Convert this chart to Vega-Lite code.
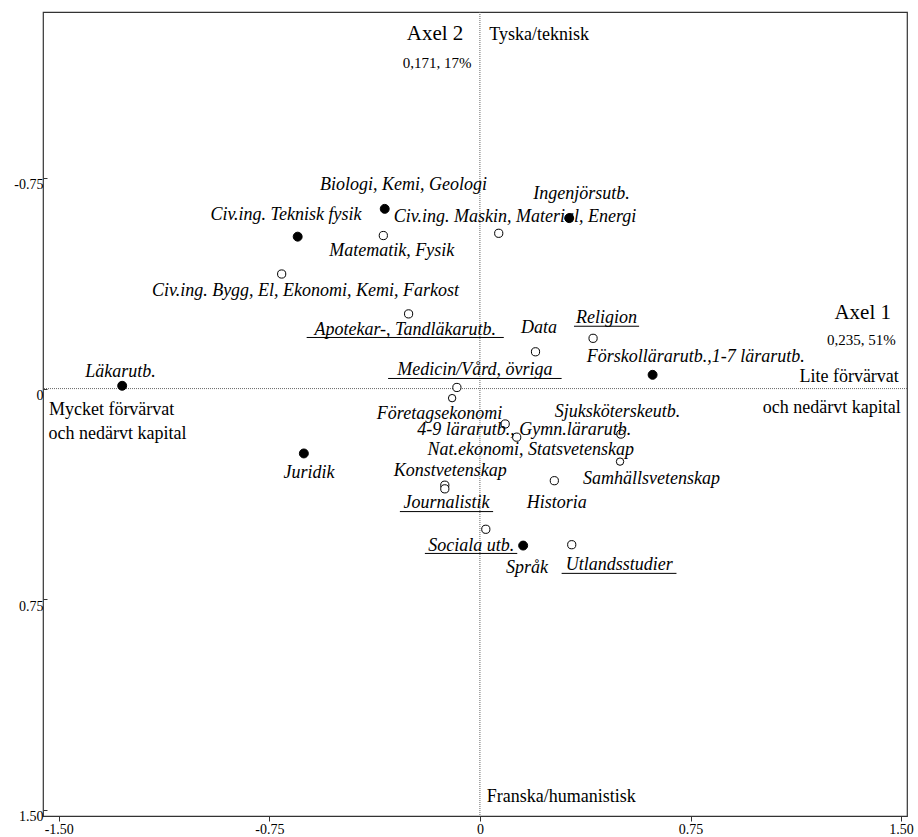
{
  "$schema": "https://vega.github.io/schema/vega-lite/v6.json",
  "width": 864,
  "height": 804,
  "autosize": {"type": "none"},
  "padding": {"left": 43, "top": 12, "right": 11, "bottom": 21},
  "background": "white",
  "config": {
    "view": {"stroke": "#333", "strokeWidth": 1.2},
    "font": "Liberation Serif",
    "axis": {"title": null, "grid": false, "domain": false, "tickColor": "#333", "labelFont": "Liberation Serif", "labelFontSize": 14, "labelColor": "black", "labelFlush": false}
  },
  "datasets": {
    "nollinjer": [{"x": 0, "y": 0}],
    "punkter": [
      {"namn": "Läkarutb.", "x": -1.274, "y": -0.010, "typ": "fylld"},
      {"namn": "Juridik", "x": -0.627, "y": 0.231, "typ": "fylld"},
      {"namn": "Civ.ing. Teknisk fysik", "x": -0.649, "y": -0.541, "typ": "fylld"},
      {"namn": "Civ.ing. Bygg, El, Ekonomi, Kemi, Farkost", "x": -0.706, "y": -0.408, "typ": "öppen"},
      {"namn": "Biologi, Kemi, Geologi", "x": -0.339, "y": -0.640, "typ": "fylld"},
      {"namn": "Matematik, Fysik", "x": -0.344, "y": -0.545, "typ": "öppen"},
      {"namn": "Civ.ing. Maskin, Material, Energi", "x": 0.067, "y": -0.553, "typ": "öppen"},
      {"namn": "Ingenjörsutb.", "x": 0.318, "y": -0.607, "typ": "fylld"},
      {"namn": "Apotekar-, Tandläkarutb.", "x": -0.254, "y": -0.266, "typ": "öppen"},
      {"namn": "Data", "x": 0.198, "y": -0.131, "typ": "öppen"},
      {"namn": "Religion", "x": 0.403, "y": -0.179, "typ": "öppen"},
      {"namn": "Förskollärarutb.,1-7 lärarutb.", "x": 0.615, "y": -0.049, "typ": "fylld"},
      {"namn": "Medicin/Vård, övriga", "x": -0.082, "y": -0.004, "typ": "öppen"},
      {"namn": "Företagsekonomi", "x": -0.099, "y": 0.034, "typ": "öppen stor"},
      {"namn": "4-9 lärarutb.", "x": 0.090, "y": 0.126, "typ": "öppen"},
      {"namn": "Gymn.lärarutb.", "x": 0.131, "y": 0.173, "typ": "öppen"},
      {"namn": "Sjuksköterskeutb.", "x": 0.502, "y": 0.162, "typ": "öppen"},
      {"namn": "Nat.ekonomi, Statsvetenskap", "x": 0.499, "y": 0.260, "typ": "öppen stor"},
      {"namn": "Samhällsvetenskap", "x": 0.265, "y": 0.328, "typ": "öppen"},
      {"namn": "Konstvetenskap", "x": -0.125, "y": 0.344, "typ": "öppen"},
      {"namn": "Journalistik", "x": -0.125, "y": 0.357, "typ": "öppen"},
      {"namn": "Sociala utb.", "x": 0.021, "y": 0.501, "typ": "öppen"},
      {"namn": "Språk", "x": 0.154, "y": 0.559, "typ": "fylld"},
      {"namn": "Utlandsstudier", "x": 0.327, "y": 0.556, "typ": "öppen"}
    ],
    "etiketter": [
      {"text": "Läkarutb.", "x": -1.280, "y": -0.040},
      {"text": "Juridik", "x": -0.609, "y": 0.320},
      {"text": "Civ.ing. Teknisk fysik", "x": -0.691, "y": -0.599},
      {"text": "Biologi, Kemi, Geologi", "x": -0.272, "y": -0.708},
      {"text": "Matematik, Fysik", "x": -0.314, "y": -0.473},
      {"text": "Civ.ing. Maskin, Material, Energi", "x": 0.125, "y": -0.594},
      {"text": "Ingenjörsutb.", "x": 0.362, "y": -0.676},
      {"text": "Civ.ing. Bygg, El, Ekonomi, Kemi, Farkost", "x": -0.621, "y": -0.330},
      {"text": "Apotekar-, Tandläkarutb.", "x": -0.266, "y": -0.191},
      {"text": "Data", "x": 0.210, "y": -0.197},
      {"text": "Religion", "x": 0.451, "y": -0.233},
      {"text": "Förskollärarutb.,1-7 lärarutb.", "x": 0.769, "y": -0.096},
      {"text": "Medicin/Vård, övriga", "x": -0.018, "y": -0.049},
      {"text": "Företagsekonomi", "x": -0.144, "y": 0.109},
      {"text": "4-9 lärarutb., Gymn.lärarutb.", "x": 0.158, "y": 0.165},
      {"text": "Sjuksköterskeutb.", "x": 0.490, "y": 0.100},
      {"text": "Nat.ekonomi, Statsvetenskap", "x": 0.181, "y": 0.236},
      {"text": "Samhällsvetenskap", "x": 0.611, "y": 0.339},
      {"text": "Konstvetenskap", "x": -0.106, "y": 0.313},
      {"text": "Journalistik", "x": -0.119, "y": 0.426},
      {"text": "Historia", "x": 0.274, "y": 0.425},
      {"text": "Sociala utb.", "x": -0.031, "y": 0.577},
      {"text": "Språk", "x": 0.168, "y": 0.657},
      {"text": "Utlandsstudier", "x": 0.496, "y": 0.646}
    ],
    "understrykningar": [
      {"etikett": "Apotekar-, Tandläkarutb.", "x": -0.617, "x2": 0.085, "y": -0.182},
      {"etikett": "Religion", "x": 0.335, "x2": 0.567, "y": -0.222},
      {"etikett": "Medicin/Vård, övriga", "x": -0.327, "x2": 0.291, "y": -0.036},
      {"etikett": "Journalistik", "x": -0.285, "x2": 0.047, "y": 0.438},
      {"etikett": "Sociala utb.", "x": -0.196, "x2": 0.133, "y": 0.587},
      {"etikett": "Utlandsstudier", "x": 0.291, "x2": 0.700, "y": 0.658}
    ],
    "annotering": [
      {"text": "Axel 2", "x": -0.059, "y": -1.242, "grupp": "axel"},
      {"text": "Axel 1", "x": 1.464, "y": -0.247, "grupp": "axel"},
      {"text": "0,171, 17%", "x": -0.030, "y": -1.141, "grupp": "tröghet"},
      {"text": "0,235, 51%", "x": 1.481, "y": -0.156, "grupp": "tröghet"},
      {"text": "Lite förvärvat", "x": 1.492, "y": -0.025, "grupp": "höger"},
      {"text": "och nedärvt kapital", "x": 1.499, "y": 0.088, "grupp": "höger"},
      {"text": "Mycket förvärvat", "x": -1.535, "y": 0.094, "grupp": "vänster"},
      {"text": "och nedärvt kapital", "x": -1.536, "y": 0.180, "grupp": "vänster"},
      {"text": "Tyska/teknisk", "x": 0.033, "y": -1.242, "grupp": "vänster"},
      {"text": "Franska/humanistisk", "x": 0.024, "y": 1.471, "grupp": "vänster"}
    ]
  },
  "layer": [
    {
      "data": {"name": "nollinjer"},
      "mark": {"type": "rule", "color": "#666", "strokeDash": [1, 1], "strokeWidth": 1},
      "encoding": {
        "x": {"field": "x", "type": "quantitative",
          "scale": {"domain": [-1.556, 1.521], "nice": false, "zero": false},
          "axis": {"values": [-1.5, -0.75, 0, 0.75, 1.5], "labelExpr": "datum.value == 0 ? '0' : (datum.value < 0 ? '-' : '') + format(abs(datum.value), '.2f')", "tickSize": 5, "labelPadding": 1}}
      }
    },
    {
      "data": {"name": "nollinjer"},
      "mark": {"type": "rule", "color": "#666", "strokeDash": [1, 1], "strokeWidth": 1},
      "encoding": {
        "y": {"field": "y", "type": "quantitative",
          "scale": {"domain": [-1.341, 1.522], "nice": false, "zero": false, "reverse": true},
          "axis": {"values": [-0.75, 0, 0.75, 1.5], "labelExpr": "datum.value == 0 ? '0' : (datum.value < 0 ? '-' : '') + format(abs(datum.value), '.2f')", "tickSize": -4, "labelPadding": 4, "labelBaseline": "top"}}
      }
    },
    {
      "data": {"name": "punkter"},
      "mark": {"type": "point", "shape": "circle", "filled": true, "stroke": "black", "strokeWidth": 1, "opacity": 1},
      "encoding": {
        "x": {"field": "x", "type": "quantitative", "scale": {"domain": [-1.556, 1.521], "nice": false, "zero": false},
          "axis": {"values": [-1.5, -0.75, 0, 0.75, 1.5], "labelExpr": "datum.value == 0 ? '0' : (datum.value < 0 ? '-' : '') + format(abs(datum.value), '.2f')", "tickSize": 5, "labelPadding": 1}},
        "y": {"field": "y", "type": "quantitative", "scale": {"domain": [-1.341, 1.522], "nice": false, "zero": false, "reverse": true},
          "axis": {"values": [-0.75, 0, 0.75, 1.5], "labelExpr": "datum.value == 0 ? '0' : (datum.value < 0 ? '-' : '') + format(abs(datum.value), '.2f')", "tickSize": -4, "labelPadding": 4, "labelBaseline": "top"}},
        "fill": {"field": "typ", "type": "nominal", "scale": {"domain": ["fylld", "öppen", "öppen stor"], "range": ["black", "white", "white"]}, "legend": null},
        "size": {"field": "typ", "type": "ordinal", "scale": {"domain": ["fylld", "öppen", "öppen stor"], "range": [80, 55, 100]}, "legend": null}
      }
    },
    {
      "data": {"name": "understrykningar"},
      "mark": {"type": "rule", "color": "black", "strokeWidth": 1},
      "encoding": {
        "x": {"field": "x", "type": "quantitative", "scale": {"domain": [-1.556, 1.521], "nice": false, "zero": false},
          "axis": {"values": [-1.5, -0.75, 0, 0.75, 1.5], "labelExpr": "datum.value == 0 ? '0' : (datum.value < 0 ? '-' : '') + format(abs(datum.value), '.2f')", "tickSize": 5, "labelPadding": 1}},
        "x2": {"field": "x2"},
        "y": {"field": "y", "type": "quantitative", "scale": {"domain": [-1.341, 1.522], "nice": false, "zero": false, "reverse": true},
          "axis": {"values": [-0.75, 0, 0.75, 1.5], "labelExpr": "datum.value == 0 ? '0' : (datum.value < 0 ? '-' : '') + format(abs(datum.value), '.2f')", "tickSize": -4, "labelPadding": 4, "labelBaseline": "top"}}
      }
    },
    {
      "data": {"name": "etiketter"},
      "mark": {"type": "text", "font": "Liberation Serif", "fontStyle": "italic", "fontSize": 18, "align": "center", "baseline": "alphabetic", "color": "black"},
      "encoding": {
        "x": {"field": "x", "type": "quantitative", "scale": {"domain": [-1.556, 1.521], "nice": false, "zero": false},
          "axis": {"values": [-1.5, -0.75, 0, 0.75, 1.5], "labelExpr": "datum.value == 0 ? '0' : (datum.value < 0 ? '-' : '') + format(abs(datum.value), '.2f')", "tickSize": 5, "labelPadding": 1}},
        "y": {"field": "y", "type": "quantitative", "scale": {"domain": [-1.341, 1.522], "nice": false, "zero": false, "reverse": true},
          "axis": {"values": [-0.75, 0, 0.75, 1.5], "labelExpr": "datum.value == 0 ? '0' : (datum.value < 0 ? '-' : '') + format(abs(datum.value), '.2f')", "tickSize": -4, "labelPadding": 4, "labelBaseline": "top"}},
        "text": {"field": "text"}
      }
    },
    {
      "data": {"name": "annotering"},
      "transform": [{"filter": "datum.grupp == 'axel'"}],
      "mark": {"type": "text", "font": "Liberation Serif", "fontSize": 21, "align": "right", "baseline": "alphabetic", "color": "black"},
      "encoding": {
        "x": {"field": "x", "type": "quantitative", "scale": {"domain": [-1.556, 1.521], "nice": false, "zero": false},
          "axis": {"values": [-1.5, -0.75, 0, 0.75, 1.5], "labelExpr": "datum.value == 0 ? '0' : (datum.value < 0 ? '-' : '') + format(abs(datum.value), '.2f')", "tickSize": 5, "labelPadding": 1}},
        "y": {"field": "y", "type": "quantitative", "scale": {"domain": [-1.341, 1.522], "nice": false, "zero": false, "reverse": true},
          "axis": {"values": [-0.75, 0, 0.75, 1.5], "labelExpr": "datum.value == 0 ? '0' : (datum.value < 0 ? '-' : '') + format(abs(datum.value), '.2f')", "tickSize": -4, "labelPadding": 4, "labelBaseline": "top"}},
        "text": {"field": "text"}
      }
    },
    {
      "data": {"name": "annotering"},
      "transform": [{"filter": "datum.grupp == 'tröghet'"}],
      "mark": {"type": "text", "font": "Liberation Serif", "fontSize": 15, "align": "right", "baseline": "alphabetic", "color": "black"},
      "encoding": {
        "x": {"field": "x", "type": "quantitative", "scale": {"domain": [-1.556, 1.521], "nice": false, "zero": false},
          "axis": {"values": [-1.5, -0.75, 0, 0.75, 1.5], "labelExpr": "datum.value == 0 ? '0' : (datum.value < 0 ? '-' : '') + format(abs(datum.value), '.2f')", "tickSize": 5, "labelPadding": 1}},
        "y": {"field": "y", "type": "quantitative", "scale": {"domain": [-1.341, 1.522], "nice": false, "zero": false, "reverse": true},
          "axis": {"values": [-0.75, 0, 0.75, 1.5], "labelExpr": "datum.value == 0 ? '0' : (datum.value < 0 ? '-' : '') + format(abs(datum.value), '.2f')", "tickSize": -4, "labelPadding": 4, "labelBaseline": "top"}},
        "text": {"field": "text"}
      }
    },
    {
      "data": {"name": "annotering"},
      "transform": [{"filter": "datum.grupp == 'höger'"}],
      "mark": {"type": "text", "font": "Liberation Serif", "fontSize": 18, "align": "right", "baseline": "alphabetic", "color": "black"},
      "encoding": {
        "x": {"field": "x", "type": "quantitative", "scale": {"domain": [-1.556, 1.521], "nice": false, "zero": false},
          "axis": {"values": [-1.5, -0.75, 0, 0.75, 1.5], "labelExpr": "datum.value == 0 ? '0' : (datum.value < 0 ? '-' : '') + format(abs(datum.value), '.2f')", "tickSize": 5, "labelPadding": 1}},
        "y": {"field": "y", "type": "quantitative", "scale": {"domain": [-1.341, 1.522], "nice": false, "zero": false, "reverse": true},
          "axis": {"values": [-0.75, 0, 0.75, 1.5], "labelExpr": "datum.value == 0 ? '0' : (datum.value < 0 ? '-' : '') + format(abs(datum.value), '.2f')", "tickSize": -4, "labelPadding": 4, "labelBaseline": "top"}},
        "text": {"field": "text"}
      }
    },
    {
      "data": {"name": "annotering"},
      "transform": [{"filter": "datum.grupp == 'vänster'"}],
      "mark": {"type": "text", "font": "Liberation Serif", "fontSize": 18, "align": "left", "baseline": "alphabetic", "color": "black"},
      "encoding": {
        "x": {"field": "x", "type": "quantitative", "scale": {"domain": [-1.556, 1.521], "nice": false, "zero": false},
          "axis": {"values": [-1.5, -0.75, 0, 0.75, 1.5], "labelExpr": "datum.value == 0 ? '0' : (datum.value < 0 ? '-' : '') + format(abs(datum.value), '.2f')", "tickSize": 5, "labelPadding": 1}},
        "y": {"field": "y", "type": "quantitative", "scale": {"domain": [-1.341, 1.522], "nice": false, "zero": false, "reverse": true},
          "axis": {"values": [-0.75, 0, 0.75, 1.5], "labelExpr": "datum.value == 0 ? '0' : (datum.value < 0 ? '-' : '') + format(abs(datum.value), '.2f')", "tickSize": -4, "labelPadding": 4, "labelBaseline": "top"}},
        "text": {"field": "text"}
      }
    }
  ]
}
